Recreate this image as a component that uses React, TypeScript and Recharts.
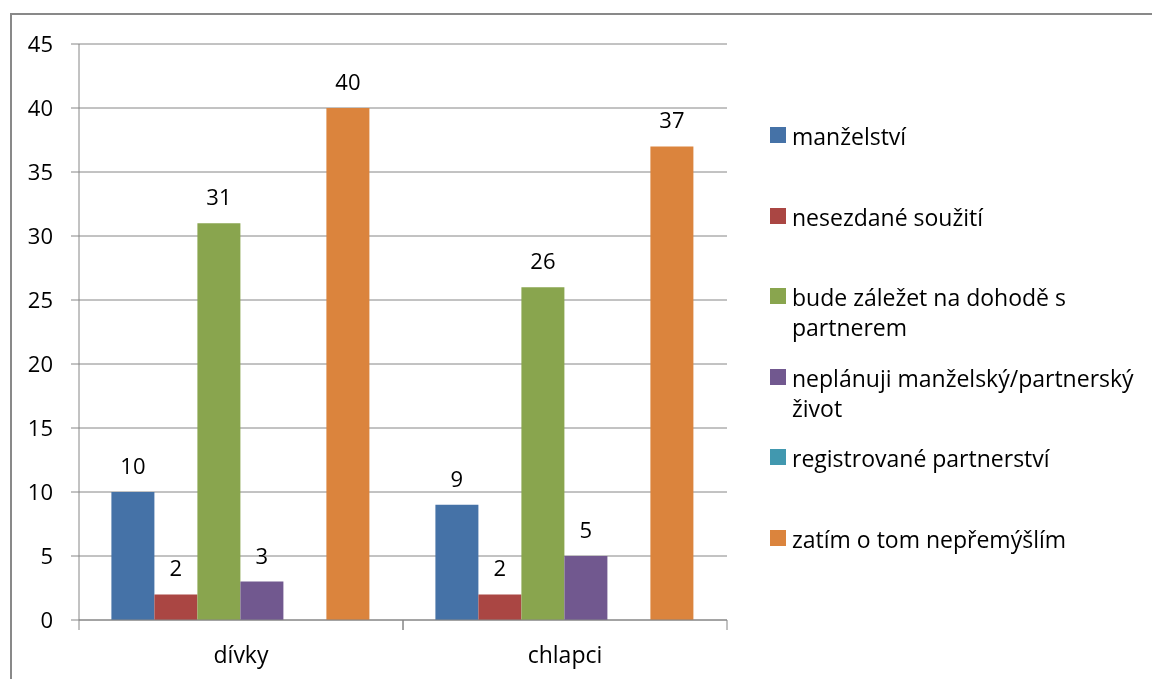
import React from 'react';
import { BarChart, Bar, XAxis, YAxis, CartesianGrid, Legend, LabelList } from 'recharts';

const categories = ['dívky', 'chlapci'];
const seriesNames = [
  'manželství',
  'nesezdané soužití',
  'bude záležet na dohodě s partnerem',
  'neplánuji manželský/partnerský život',
  'registrované partnerství',
  'zatím o tom nepřemýšlím',
];
const manzelstvi = [10, 9];
const nesezdane = [2, 2];
const dohoda = [31, 26];
const neplanuji = [3, 5];
const registrovane = [0, 0];
const zatim = [40, 37];
const yTicks = [0, 5, 10, 15, 20, 25, 30, 35, 40, 45];

const seriesValues = [manzelstvi, nesezdane, dohoda, neplanuji, registrovane, zatim];
const colors = ['#4572A7', '#AA4643', '#89A54E', '#71588F', '#4198AF', '#DB843D'];
const keys = ['s0', 's1', 's2', 's3', 's4', 's5'];

const data = categories.map((c, i) => {
  const row: any = { name: c };
  keys.forEach((k, j) => {
    row[k] = seriesValues[j][i];
  });
  return row;
});

const FONT = '"Open Sans", sans-serif';
const AXIS = '#868686';

const CategoryTick = (props: any) => {
  const { x, y, payload, width, visibleTicksCount } = props;
  const half = payload && payload.offset ? payload.offset : width / (visibleTicksCount || 2) / 2;
  return (
    <g>
      <line x1={x - half} y1={y} x2={x - half} y2={y + 10} stroke={AXIS} strokeWidth={1} />
      <line x1={x + half} y1={y} x2={x + half} y2={y + 10} stroke={AXIS} strokeWidth={1} />
      <text x={x} y={y + 43} textAnchor="middle" fontSize={23} fontFamily={FONT} fill="#000">
        {payload.value}
      </text>
    </g>
  );
};

const renderLegend = (props: any) => {
  const items = [...(props.payload || [])].sort(
    (a: any, b: any) => seriesNames.indexOf(a.value) - seriesNames.indexOf(b.value)
  );
  return (
    <div style={{ fontFamily: FONT, fontSize: 23, color: '#000' }}>
      {items.map((it: any) => (
        <div key={it.value} style={{ height: 80.6, display: 'flex', alignItems: 'flex-start' }}>
          <span
            style={{
              display: 'inline-block',
              width: 16,
              height: 16,
              background: it.color,
              marginTop: 6,
              marginRight: 6,
              flex: '0 0 16px',
            }}
          />
          <span style={{ lineHeight: '30px', width: 360 }}>{it.value}</span>
        </div>
      ))}
    </div>
  );
};

const labelFormatter = (v: any) => (v === 0 ? '' : v);

export default function App() {
  return (
    <div style={{ position: 'relative', width: 1144, height: 663, background: '#fff' }}>
      <div
        style={{
          position: 'fixed',
          left: 10,
          top: 13,
          right: 0,
          bottom: 0,
          borderTop: '2px solid #898989',
          borderLeft: '2px solid #898989',
          pointerEvents: 'none',
        }}
      />
      <div style={{ position: 'absolute', left: 0, top: 0 }}>
        <BarChart
          width={1144}
          height={663}
          data={data}
          margin={{ top: 36, right: 425, bottom: 0, left: 0 }}
          barCategoryGap="10%"
          barGap={0}
        >
          <CartesianGrid horizontal vertical={false} stroke={AXIS} strokeDasharray="" />
          <XAxis
            dataKey="name"
            height={51}
            axisLine={{ stroke: AXIS }}
            tickLine={false}
            tickSize={0}
            tickMargin={0}
            tick={<CategoryTick />}
            interval={0}
          />
          <YAxis
            width={71}
            domain={[0, 45]}
            ticks={yTicks}
            interval={0}
            axisLine={{ stroke: AXIS }}
            tickLine={{ stroke: AXIS }}
            tickSize={8}
            tickMargin={18}
            tick={{ fontSize: 22, fontFamily: FONT, fill: '#000' }}
          />
          <Legend
            layout="vertical"
            align="center"
            verticalAlign="middle"
            itemSorter={null as any}
            wrapperStyle={{ left: 762, top: 113, width: 382 }}
            content={renderLegend}
          />
          {keys.map((k, j) => (
            <Bar key={k} dataKey={k} name={seriesNames[j]} fill={colors[j]} isAnimationActive={false}>
              <LabelList
                dataKey={k}
                position="top"
                offset={18}
                formatter={labelFormatter}
                style={{ fontSize: 22, fontFamily: FONT, fill: '#000' }}
              />
            </Bar>
          ))}
        </BarChart>
      </div>
    </div>
  );
}
